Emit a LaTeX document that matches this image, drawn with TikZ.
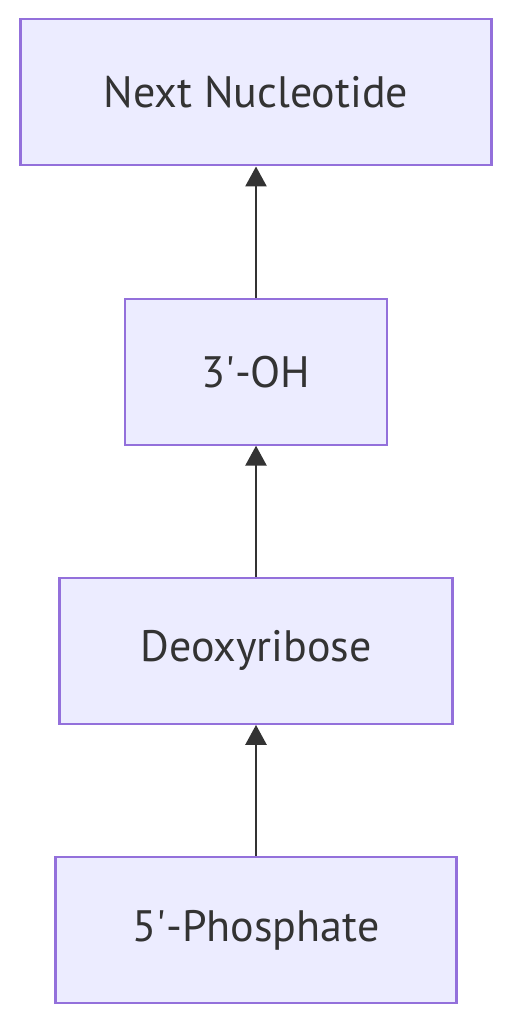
\documentclass[tikz,border=0pt]{standalone}
\usepackage{fontspec}
\setmainfont{PT Sans}
\usetikzlibrary{arrows.meta,positioning}

\definecolor{boxfill}{HTML}{ECECFF}
\definecolor{boxline}{HTML}{9370DB}
\definecolor{ink}{HTML}{333333}

\begin{document}
\begin{tikzpicture}[>={Triangle[length=20pt,width=21pt]}, node distance=131pt,
    box/.style={rectangle, draw=boxline, fill=boxfill, line width=2.2pt,
        minimum height=146pt, text=ink, font=\fontsize{44}{52}\selectfont},
    link/.style={->, draw=ink, line width=2.8pt}]
    \useasboundingbox (0pt,0pt) rectangle (513pt,-1024pt);
    % Nodes {phosphate, sugar, hydroxyl, next}
    \node [box, minimum width=401pt] 	(phos)	at (256pt,-930pt)	{5\textquotesingle-Phosphate};
    \node [box, minimum width=393pt] 	(sugar)	[above=of phos]	{Deoxyribose};
    \node [box, minimum width=262pt] 	(oh)	[above=of sugar]	{3\textquotesingle-OH};
    \node [box, minimum width=471pt] 	(next)	[above=of oh]	{Next Nucleotide};

    % Paths
    \path 	(phos) edge [link] 	(sugar);
    \path 	(sugar) edge [link] 	(oh);
    \path 	(oh) edge [link] 	(next);
\end{tikzpicture}
\end{document}
